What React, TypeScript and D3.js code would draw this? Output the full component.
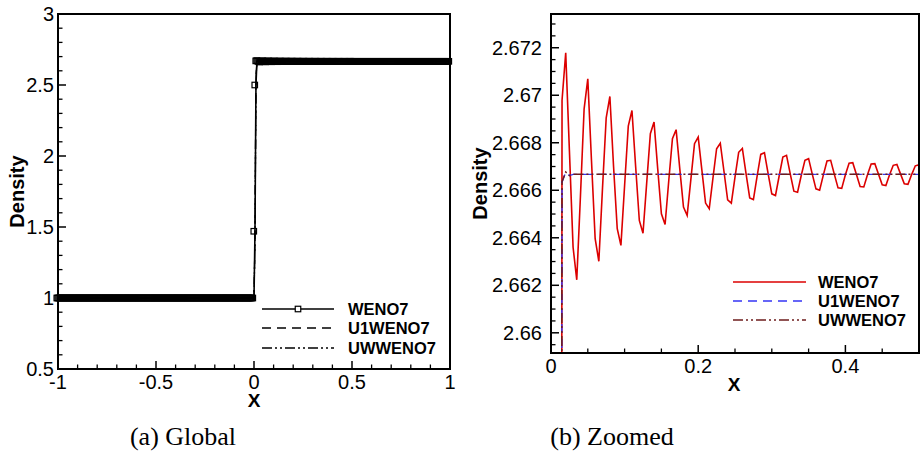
import React from 'react';
import * as d3 from 'd3';

// ---------- data ----------
const DX = 0.005;
const weno7Zoom = [
  1.0, 1.47, 2.5, 2.66979, 2.67179, 2.66768, 2.6636, 2.66223, 2.66575, 2.66943,
  2.67069, 2.66725, 2.66396, 2.66301, 2.6661, 2.66905, 2.66995, 2.667, 2.66438, 2.66368,
  2.6662, 2.6687, 2.66936, 2.667, 2.66473, 2.66419, 2.6663, 2.66838, 2.66887, 2.6669,
  2.66501, 2.66456, 2.6664, 2.66817, 2.66855, 2.6669, 2.66529, 2.66494, 2.66645, 2.66796,
  2.66824, 2.66685, 2.66546, 2.66522, 2.6665, 2.66775, 2.66798, 2.6668, 2.6656, 2.66546,
  2.66655, 2.6676, 2.66776, 2.6667, 2.66568, 2.66561, 2.66658, 2.66751, 2.66758, 2.6667,
  2.66585, 2.66578, 2.6666, 2.6674, 2.66747, 2.6667, 2.66596, 2.66592, 2.66662, 2.66726,
  2.66733, 2.66668, 2.66606, 2.666, 2.66664, 2.66723, 2.66726, 2.66667, 2.6661, 2.66608,
  2.66665, 2.66714, 2.66716, 2.66666, 2.66616, 2.66614, 2.66665, 2.66711, 2.66712, 2.66667,
  2.66623, 2.6662, 2.66665, 2.66705, 2.66709, 2.66668, 2.66627, 2.66625, 2.66666, 2.66703,
  2.66707,
];
// U1WENO7 / UWWENO7 near the shock (x = 0 ... 0.025), then the post-shock state
const u1weno7Head = [1.0, 1.4, 2.55, 2.66634, 2.66676, 2.66662];
const uwweno7Head = [1.0, 1.4, 2.55, 2.66636, 2.66677, 2.66662];
const preShockState = 1.0;
const postShockState = 2.66667;

const seriesNames = ['WENO7', 'U1WENO7', 'UWWENO7'];
const captions = ['(a) Global', '(b) Zoomed'];
const xTicksGlobal = [-1, -0.5, 0, 0.5, 1];
const yTicksGlobal = [0.5, 1, 1.5, 2, 2.5, 3];
const xTicksZoom = [0, 0.2, 0.4];
const yTicksZoom = [2.66, 2.662, 2.664, 2.666, 2.668, 2.67, 2.672];

// ---------- series construction ----------
type P = [number, number];
const zoomXs = weno7Zoom.map((_, i) => +(i * DX).toFixed(4));
const withPlateau = (head: number[]): P[] =>
  zoomXs.map((x, i) => [x, i < head.length ? head[i] : postShockState]);
const weno7ZoomPts: P[] = zoomXs.map((x, i) => [x, weno7Zoom[i]]);
const u1ZoomPts = withPlateau(u1weno7Head);
const uwZoomPts = withPlateau(uwweno7Head);

const nLeft = Math.round(1 / DX);
const leftPts: P[] = d3.range(nLeft).map((i) => [-1 + i * DX, preShockState]);
const rightPts: P[] = d3.range(1, nLeft + 1).map((i) => [0.5 + i * DX, postShockState]).filter((p) => p[0] <= 1.00001);
const globalOf = (z: P[]): P[] => [...leftPts, ...z, ...rightPts];
const weno7Global = globalOf(weno7ZoomPts);
const u1Global = globalOf(u1ZoomPts);
const uwGlobal = globalOf(uwZoomPts);

// ---------- styling ----------
const SANS = '"Liberation Sans", Arial, Helvetica, sans-serif';
const SERIF = '"Liberation Serif", "Times New Roman", serif';
const RED = '#dc0000';
const BLUE = '#3535f5';
const BROWN = '#6e1c1c';
const DASH = '9,6';
const DASHDOTDOT = '10,3,2,3,2,3';

const L = { x0: 58, x1: 450, y0: 14, y1: 369 };
const R = { x0: 551, x1: 919, y0: 14, y1: 353 };

function Axes({ box, xs, ys, xMaj, yMaj, xMin, yMin, yGap }: any) {
  return (
    <g>
      {xMin.map((v: number, i: number) => (
        <line key={'xm' + i} x1={xs(v)} x2={xs(v)} y1={box.y1} y2={box.y1 - 4.5} stroke="#000" strokeWidth={1.3} />
      ))}
      {yMin.map((v: number, i: number) => (
        <line key={'ym' + i} x1={box.x0} x2={box.x0 + 4.5} y1={ys(v)} y2={ys(v)} stroke="#000" strokeWidth={1.3} />
      ))}
      {xMaj.map((v: number, i: number) => (
        <g key={'xM' + i}>
          <line x1={xs(v)} x2={xs(v)} y1={box.y1} y2={box.y1 - 8} stroke="#000" strokeWidth={1.5} />
          <text x={xs(v)} y={box.y1 + 20} textAnchor="middle" fontFamily={SANS} fontSize={20}>{String(v)}</text>
        </g>
      ))}
      {yMaj.map((v: number, i: number) => (
        <g key={'yM' + i}>
          <line x1={box.x0} x2={box.x0 + 8} y1={ys(v)} y2={ys(v)} stroke="#000" strokeWidth={1.5} />
          <text x={box.x0 - yGap} y={ys(v)} dy="0.35em" textAnchor="end" fontFamily={SANS} fontSize={20}>{String(v)}</text>
        </g>
      ))}
      <rect x={box.x0} y={box.y0} width={box.x1 - box.x0} height={box.y1 - box.y0} fill="none" stroke="#000" strokeWidth={2} />
    </g>
  );
}

export default function App() {
  // Left (global)
  const xL = d3.scaleLinear().domain([-1, 1]).range([L.x0, L.x1]);
  const yL = d3.scaleLinear().domain([0.5, 3]).range([L.y1, L.y0]);
  const lineL = d3.line<P>().x((d) => xL(d[0])).y((d) => yL(d[1]));
  // Right (zoomed)
  const xR = d3.scaleLinear().domain([0, 0.5]).range([R.x0, R.x1]);
  const yR = d3.scaleLinear().domain([2.65915, 2.67342]).range([R.y1, R.y0]);
  const lineR = d3.line<P>().x((d) => xR(d[0])).y((d) => yR(d[1]));

  const xMinL = d3.range(-10, 11).map((k) => k / 10).filter((v) => Math.abs(v * 2 - Math.round(v * 2)) > 1e-6);
  const yMinL = d3.range(5, 31).map((k) => k / 10).filter((v) => Math.abs(v * 2 - Math.round(v * 2)) > 1e-6);
  const xMinR = d3.range(0, 11).map((k) => k * 0.05).filter((v) => Math.abs(v * 5 - Math.round(v * 5)) > 1e-6);
  const yMinR = d3.range(0, 30).map((k) => 2.6595 + k * 0.0005).filter((v) => v < 2.6734 && Math.abs(v * 500 - Math.round(v * 500)) > 1e-4);

  const MS = 5.5;
  const legL = { x0: 262, x1: 334, tx: 348, ys: [309, 328, 348] };
  const legR = { x0: 733, x1: 806, tx: 818, ys: [282, 301, 320] };

  return (
    <svg width={920} height={455} style={{ position: 'absolute', left: 0, top: 0, background: '#fff' }}>
      <defs>
        <clipPath id="clipR">
          <rect x={R.x0} y={R.y0} width={R.x1 - R.x0} height={R.y1 - R.y0} />
        </clipPath>
      </defs>

      {/* ---------- Left panel ---------- */}
      <path d={lineL(uwGlobal) || ''} fill="none" stroke="#000" strokeWidth={1.3} strokeDasharray={DASHDOTDOT} />
      <path d={lineL(u1Global) || ''} fill="none" stroke="#000" strokeWidth={1.3} strokeDasharray={DASH} />
      <path d={lineL(weno7Global) || ''} fill="none" stroke="#000" strokeWidth={1.6} />
      {weno7Global.map((d, i) => (
        <rect key={i} x={xL(d[0]) - MS / 2 - 1.2} y={yL(d[1]) - MS / 2} width={MS} height={MS} fill="none" stroke="#000" strokeWidth={1.2} />
      ))}
      <Axes box={L} xs={xL} ys={yL} xMaj={xTicksGlobal} yMaj={yTicksGlobal} xMin={xMinL} yMin={yMinL} yGap={4} />
      <text transform={`translate(24,${(L.y0 + L.y1) / 2}) rotate(-90)`} textAnchor="middle" fontFamily={SANS} fontWeight="bold" fontSize={20}>Density</text>
      <text x={xL(0)} y={L.y1 + 38} textAnchor="middle" fontFamily={SANS} fontWeight="bold" fontSize={19}>X</text>
      {/* legend left */}
      <line x1={legL.x0} x2={legL.x1} y1={legL.ys[0]} y2={legL.ys[0]} stroke="#000" strokeWidth={1.5} />
      <rect x={(legL.x0 + legL.x1) / 2 - MS / 2} y={legL.ys[0] - MS / 2} width={MS} height={MS} fill="#fff" stroke="#000" strokeWidth={1.2} />
      <line x1={legL.x0} x2={legL.x1} y1={legL.ys[1]} y2={legL.ys[1]} stroke="#000" strokeWidth={1.3} strokeDasharray={DASH} />
      <line x1={legL.x0} x2={legL.x1} y1={legL.ys[2]} y2={legL.ys[2]} stroke="#000" strokeWidth={1.3} strokeDasharray={DASHDOTDOT} />
      {seriesNames.map((s, i) => (
        <text key={s} x={legL.tx} y={legL.ys[i]} dy="0.36em" fontFamily={SANS} fontWeight="bold" fontSize={16.5}>{s}</text>
      ))}
      <text x={183} y={445} textAnchor="middle" fontFamily={SERIF} fontSize={26}>{captions[0]}</text>

      {/* ---------- Right panel ---------- */}
      <g clipPath="url(#clipR)">
        <path d={lineR(weno7ZoomPts) || ''} fill="none" stroke={RED} strokeWidth={1.6} />
        <path d={lineR(u1ZoomPts) || ''} fill="none" stroke={BLUE} strokeWidth={1.4} strokeDasharray={DASH} />
        <path d={lineR(uwZoomPts) || ''} fill="none" stroke={BROWN} strokeWidth={1.5} strokeDasharray={DASHDOTDOT} />
      </g>
      <Axes box={R} xs={xR} ys={yR} xMaj={xTicksZoom} yMaj={yTicksZoom} xMin={xMinR} yMin={yMinR} yGap={9} />
      <text transform={`translate(487,${(R.y0 + R.y1) / 2}) rotate(-90)`} textAnchor="middle" fontFamily={SANS} fontWeight="bold" fontSize={20}>Density</text>
      <text x={(R.x0 + R.x1) / 2 - 1} y={R.y1 + 38} textAnchor="middle" fontFamily={SANS} fontWeight="bold" fontSize={19}>X</text>
      {/* legend right */}
      <line x1={legR.x0} x2={legR.x1} y1={legR.ys[0]} y2={legR.ys[0]} stroke={RED} strokeWidth={1.6} />
      <line x1={legR.x0} x2={legR.x1} y1={legR.ys[1]} y2={legR.ys[1]} stroke={BLUE} strokeWidth={1.4} strokeDasharray={DASH} />
      <line x1={legR.x0} x2={legR.x1} y1={legR.ys[2]} y2={legR.ys[2]} stroke={BROWN} strokeWidth={1.5} strokeDasharray={DASHDOTDOT} />
      {seriesNames.map((s, i) => (
        <text key={s} x={legR.tx} y={legR.ys[i]} dy="0.36em" fontFamily={SANS} fontWeight="bold" fontSize={16.5}>{s}</text>
      ))}
      <text x={612} y={445} textAnchor="middle" fontFamily={SERIF} fontSize={26}>{captions[1]}</text>
    </svg>
  );
}
